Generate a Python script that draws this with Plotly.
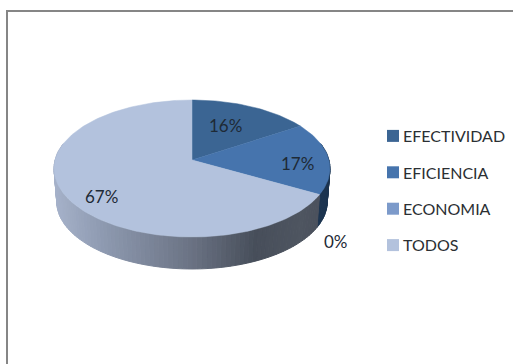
import math
import plotly.graph_objects as go

categories = ["EFECTIVIDAD", "EFICIENCIA", "ECONOMIA", "TODOS"]
values = [16, 17, 0, 67]
top_colors = ["#3B6593", "#4674AD", "#7C9ACA", "#B3C2DD"]
side_colors = ["#223F60", "#1C3450", "#4A5F80", None]
label_x = [225, 297, 336, 101]
label_y = [125, 163, 241, 196]

# Tilted-disc projection
CX, CY = 192, 160
A, B, K = 136.9, 67.45, 0.1241
DEPTH, BASE_SCALE = 33.5, 0.98

# Shading across the front wall of the largest slice (x position, colour)
wall_x = [54, 100, 190, 255, 300, 330]
wall_rgb = [(166, 178, 202), (143, 155, 178), (107, 115, 132), (71, 78, 90), (78, 85, 96), (72, 78, 90)]


def project(theta, base=False):
    X, Y = math.sin(theta), math.cos(theta)
    d = 1 + K * Y
    s = BASE_SCALE if base else 1.0
    return CX + s * A * X / d, CY - s * B * Y / d + (DEPTH if base else 0)


def wall_color(x):
    for i in range(len(wall_x) - 1):
        if x <= wall_x[i + 1]:
            t = max(0, (x - wall_x[i]) / (wall_x[i + 1] - wall_x[i]))
            c = [round(a + (b - a) * t) for a, b in zip(wall_rgb[i], wall_rgb[i + 1])]
            return "rgb(%d,%d,%d)" % tuple(c)
    return "rgb(%d,%d,%d)" % wall_rgb[-1]


total = sum(values)
edges = [0.0]
for v in values:
    edges.append(edges[-1] + v / total * 2 * math.pi)

fig = go.Figure()

# Side wall
for i, v in enumerate(values):
    if v == 0:
        continue
    n = max(2, int(v * 2))
    for j in range(n):
        t0 = edges[i] + (edges[i + 1] - edges[i]) * j / n
        t1 = edges[i] + (edges[i + 1] - edges[i]) * (j + 1) / n
        if math.cos((t0 + t1) / 2) > 0.25:
            continue
        p = [project(t0), project(t1), project(t1, True), project(t0, True)]
        col = side_colors[i] or wall_color(sum(q[0] for q in p) / 4)
        fig.add_trace(go.Scatter(
            x=[q[0] for q in p] + [p[0][0]], y=[q[1] for q in p] + [p[0][1]],
            mode="lines", fill="toself", fillcolor=col,
            line=dict(color=col, width=1), showlegend=False, hoverinfo="skip"))

# Top slices
for i, v in enumerate(values):
    if v == 0:
        continue
    n = max(4, int(v * 3))
    pts = [project(edges[i] + (edges[i + 1] - edges[i]) * j / n) for j in range(n + 1)]
    xs = [CX] + [q[0] for q in pts] + [CX]
    ys = [CY] + [q[1] for q in pts] + [CY]
    fig.add_trace(go.Scatter(
        x=xs, y=ys, mode="lines", fill="toself", fillcolor=top_colors[i],
        line=dict(color=top_colors[i], width=0.5), showlegend=False,
        name=categories[i], hoverinfo="name"))

# Legend entries
for i, c in enumerate(categories):
    fig.add_trace(go.Scatter(
        x=[None], y=[None], mode="markers", name=c, legendgroup=c,
        marker=dict(symbol="square", size=12, color=top_colors[i])))

for i, v in enumerate(values):
    fig.add_annotation(x=label_x[i], y=label_y[i], text=f"{v}%", showarrow=False,
                       font=dict(family="Lato", size=17, color="#1E2A36"))

fig.update_layout(
    width=513, height=364, autosize=False,
    margin=dict(l=0, r=0, t=0, b=0),
    paper_bgcolor="white", plot_bgcolor="white",
    xaxis=dict(range=[0, 513], visible=False, fixedrange=True),
    yaxis=dict(range=[364, 0], visible=False, fixedrange=True),
    showlegend=True,
    legend=dict(x=373 / 513, y=1 - 119 / 364, xanchor="left", yanchor="top",
                font=dict(family="Lato", size=16, color="#2B2F33"),
                tracegroupgap=12.6, bgcolor="rgba(0,0,0,0)", itemwidth=30, indentation=-10),
    shapes=[dict(type="path", xref="paper", yref="paper",
                 path="M %f,0 L %f,%f L 1,%f" % (7 / 513, 7 / 513, 1 - 11 / 364, 1 - 11 / 364),
                 line=dict(color="#868686", width=2))],
)
fig.write_html(
    "out.html", config={"displayModeBar": False},
    post_script=(
        "document.body.style.margin='0';document.body.style.overflow='hidden';"
        "document.querySelectorAll('.legendsymbols').forEach(function(g){"
        "g.setAttribute('transform','translate(10,0)');});"
    ),
)
